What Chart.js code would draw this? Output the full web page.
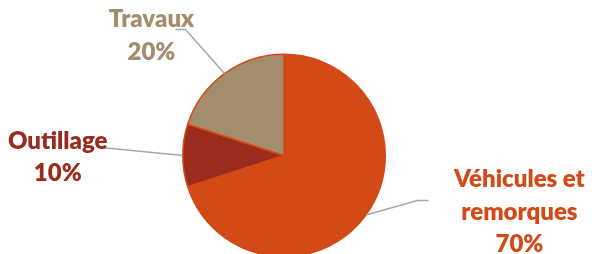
<!DOCTYPE html>
<html>
<head>
<meta charset="utf-8">
<script src="https://cdn.jsdelivr.net/npm/chart.js@4/dist/chart.umd.min.js"></script>
<style>
  html, body { margin: 0; padding: 0; background: #ffffff; overflow: hidden; }
  #wrap { position: relative; width: 592px; height: 262px; }
</style>
</head>
<body>
<div id="wrap"><canvas id="c"></canvas></div>
<script>
// ---- data ----
const categories = ['Véhicules et remorques', 'Outillage', 'Travaux'];
const values = [70, 10, 20];
const labelLines = [['Véhicules et', 'remorques'], ['Outillage'], ['Travaux']];

// ---- styles ----
const sliceColors = ['#D34A17', '#9A2B1D', '#A38D6D'];
const textColors = ['#D34A17', '#9A2B1D', '#A38D6D'];
// label placement relative to the slice's outer-edge midpoint
const labelPlace = [
  { dx: 153.5, dy: -28, line: [[51.5, -14.5], [62.5, -14.5]] },
  { dx: -125, dy: -7, line: [[-79, -7.8]] },
  { dx: -73, dy: -46.5, line: [[-39, -44], [-49, -44]] }
];

const total = values.reduce((a, b) => a + b, 0);

const labelPlugin = {
  id: 'outerLabels',
  afterDatasetsDraw(chart) {
    const ctx = chart.ctx;
    const meta = chart.getDatasetMeta(0);
    meta.data.forEach((arc, i) => {
      const p = arc.getProps(['x', 'y', 'startAngle', 'endAngle', 'outerRadius'], true);
      const mid = (p.startAngle + p.endAngle) / 2;
      const ax = p.x + Math.cos(mid) * p.outerRadius;
      const ay = p.y + Math.sin(mid) * p.outerRadius;
      const pl = labelPlace[i];
      ctx.save();
      ctx.strokeStyle = '#A6A6A6';
      ctx.lineWidth = 1.5;
      ctx.beginPath();
      ctx.moveTo(ax, ay);
      pl.line.forEach(pt => ctx.lineTo(ax + pt[0], ay + pt[1]));
      ctx.stroke();
      ctx.fillStyle = textColors[i];
      ctx.font = '800 24px Lato';
      ctx.textAlign = 'center';
      ctx.textBaseline = 'alphabetic';
      const lines = labelLines[i].concat([Math.round(values[i] / total * 100) + '%']);
      lines.forEach((t, k) => ctx.fillText(t, ax + pl.dx, ay + pl.dy + k * 32.5));
      ctx.restore();
    });
  }
};

new Chart(document.getElementById('c'), {
  type: 'pie',
  data: {
    labels: categories,
    datasets: [{
      data: values,
      backgroundColor: sliceColors,
      borderColor: '#D34A17',
      borderWidth: 1.5,
      clip: false
    }]
  },
  options: {
    responsive: true,
    maintainAspectRatio: false,
    animation: false,
    layout: { padding: { left: 182, right: 206, top: 53.5, bottom: 4.5 } },
    plugins: { legend: { display: false }, tooltip: { enabled: false } }
  },
  plugins: [labelPlugin]
});
</script>
</body>
</html>
